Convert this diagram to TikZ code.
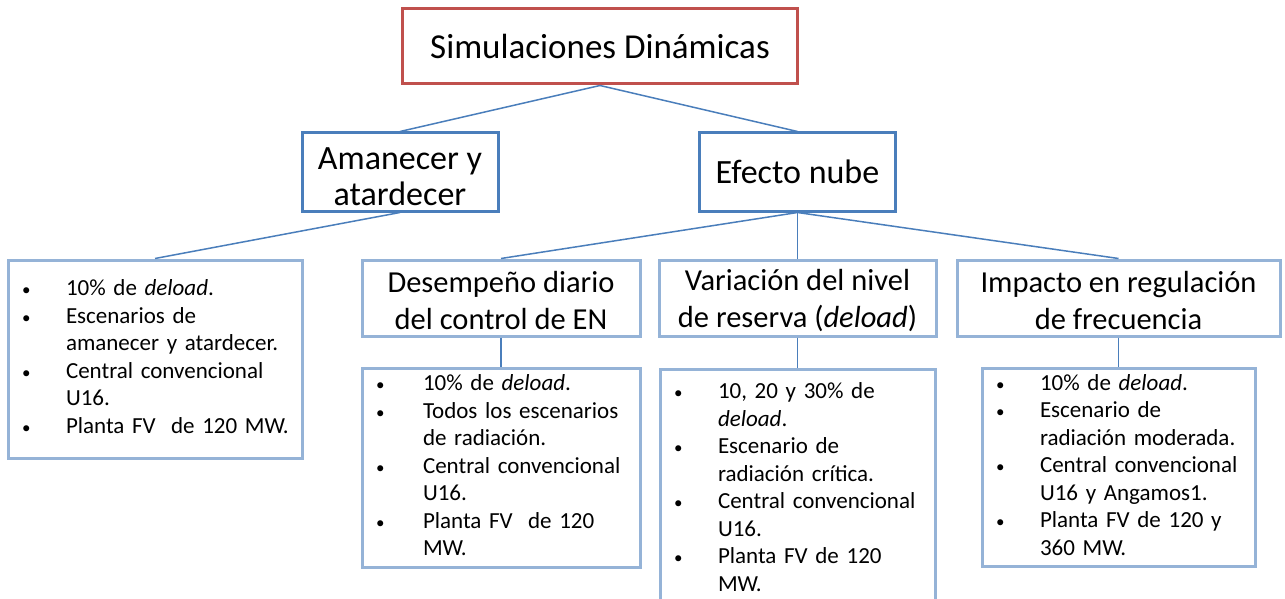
\documentclass[tikz,border=0pt]{standalone}
\usepackage{fontspec}
\setmainfont{Carlito}
\usetikzlibrary{positioning}
\definecolor{rojo}{RGB}{192,80,77}
\definecolor{azul}{RGB}{74,126,187}
\definecolor{celeste}{RGB}{149,179,215}
\newcommand{\del}{\textit{deload}}
\newcommand{\vin}{\hspace*{-3pt}{\fontsize{17}{17}\selectfont\textbullet} &}
\newcommand{\alto}[1]{\rule{0pt}{#1}}

\begin{document}
\begin{tikzpicture}[x=1pt, y=-1pt,
      caja/.style={draw, fill=white, line width=3pt, inner sep=0pt, align=center},
      raiz/.style={caja, draw=rojo, minimum width=395pt, minimum height=75pt,
                   font=\fontsize{35}{40}\selectfont},
      rama/.style={caja, draw=azul, minimum width=196pt, minimum height=78pt,
                   font=\fontsize{34}{36.6}\selectfont},
      hoja/.style={caja, draw=celeste, minimum height=76pt,
                   font=\fontsize{30.5}{37}\selectfont},
      lista/.style={caja, draw=celeste, align=left, inner xsep=17pt,
                    font=\fontsize{23}{27.5}\selectfont},
      enlace/.style={draw=azul, line width=1.5pt}]
    \useasboundingbox (0,0) rectangle (1285,599);
    \clip (0,0) rectangle (1285,599);
    \node[raiz] (sim) at (600,46.5) {Simulaciones Dinámicas};
    \node[rama] (ama) at (400,172) {\alto{31pt}Amanecer y\\atardecer};
    \node[rama] (nube) at (797.5,172) {Efecto nube};
    \node[hoja, minimum width=278pt] (des) at (501,298) {\alto{27pt}Desempeño diario\\del control de EN};
    \node[hoja, minimum width=277pt] (var) at (797.5,298) {\alto{27pt}Variación del nivel\\de reserva (\del)};
    \node[hoja, minimum width=323pt] (imp) at (1118.5,298) {\alto{27pt}Impacto en regulación\\de frecuencia};
    \node[lista, text width=260pt, minimum height=198pt] (lAma) at (155,359) {%
      \begin{tabular}{@{}p{41pt}@{}l@{}}
        \vin 10\% de \del.\\
        \vin Escenarios de\\
        & amanecer y atardecer.\\
        \vin Central convencional\\
        & U16.\\
        \vin Planta FV\ \ de 120 MW.
      \end{tabular}};
    \node[lista, text width=244pt, minimum height=199pt] (lDes) at (501,467.5) {%
      \begin{tabular}{@{}p{44pt}@{}l@{}}
        \vin 10\% de \del.\\
        \vin Todos los escenarios\\
        & de radiación.\\
        \vin Central convencional\\
        & U16.\\
        \vin Planta FV\ \ de 120\\
        & MW.
      \end{tabular}};
    \node[lista, text width=241pt, inner ysep=10pt, anchor=north] (lVar) at (797.5,368) {%
      \begin{tabular}{@{}p{41pt}@{}l@{}}
        \vin 10, 20 y 30\% de\\
        & \del.\\
        \vin Escenario de\\
        & radiación crítica.\\
        \vin Central convencional\\
        & U16.\\
        \vin Planta FV de 120\\
        & MW.
      \end{tabular}};
    \node[lista, text width=239pt, minimum height=198pt] (lImp) at (1118.5,467) {%
      \begin{tabular}{@{}p{41pt}@{}l@{}}
        \vin 10\% de \del.\\
        \vin Escenario de\\
        & radiación moderada.\\
        \vin Central convencional\\
        & U16 y Angamos1.\\
        \vin Planta FV de 120 y\\
        & 360 MW.
      \end{tabular}};
    \draw[enlace] (sim.south) -- (ama.north);
    \draw[enlace] (sim.south) -- (nube.north);
    \draw[enlace] (ama.south) -- (lAma.north);
    \draw[enlace] (nube.south) -- (des.north);
    \draw[enlace] (nube.south) -- (var.north);
    \draw[enlace] (nube.south) -- (imp.north);
    \draw[enlace] (des.south) -- (lDes.north);
    \draw[enlace] (var.south) -- (lVar.north);
    \draw[enlace] (imp.south) -- (lImp.north);
  \end{tikzpicture}
\end{document}
